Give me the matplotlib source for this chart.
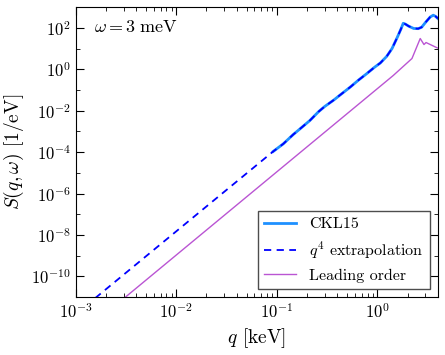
import numpy as np
import matplotlib
matplotlib.use("Agg")
import matplotlib.pyplot as plt
from matplotlib.ticker import LogLocator, NullFormatter

plt.rcParams['font.family'] = 'serif'
plt.rcParams['font.serif'] = ['cmr10', 'DejaVu Serif']
plt.rcParams['mathtext.fontset'] = 'cm'
plt.rcParams['axes.formatter.use_mathtext'] = True

# CKL15 structure factor (q in keV, S in 1/eV)
q_ckl = [0.092, 0.116, 0.146, 0.171, 0.214, 0.26, 0.30, 0.37, 0.42, 0.54,
         0.65, 0.78, 0.94, 1.07, 1.24, 1.40, 1.58, 1.72, 1.81, 1.90,
         2.05, 2.30, 2.55, 2.76, 3.0, 3.35, 3.6, 3.8, 4.0]
s_ckl = [1.07e-4, 2.5e-4, 7.1e-4, 1.35e-3, 3.4e-3, 8.9e-3, 1.6e-2, 3.3e-2, 5.4e-2, 0.14,
         0.30, 0.60, 1.26, 2.0, 4.2, 10.0, 35.0, 89.0, 166.0, 151.0,
         120.0, 93.0, 91.0, 107.0, 178.0, 331.0, 407.0, 355.0, 282.0]

# q^4 extrapolation below the CKL15 range
q_ext = [1e-3, 0.092]
s_ext = [1.5e-12, 1.07e-4]

# leading order result
q_lo = [1e-3, 1.44, 2.21, 2.67, 2.91, 3.05, 3.95]
s_lo = [1.03e-13, 0.5, 3.3, 30.5, 15.6, 19.5, 10.7]

fig = plt.figure(figsize=(4.45, 3.55), dpi=100)
ax = fig.add_axes([0.170, 0.163, 0.814, 0.817])

ax.plot(q_ckl, s_ckl, color='dodgerblue', lw=2.0, label='CKL15')
ax.plot(q_ext + q_ckl[1:], s_ext + s_ckl[1:], color='blue', lw=1.3,
        ls=(0, (4, 3)), label=r'$q^4$ extrapolation')
ax.plot(q_lo, s_lo, color='mediumorchid', lw=1.0, label='Leading order')

ax.set_xscale('log')
ax.set_yscale('log')
ax.set_xlim(1e-3, 4.0)
ax.set_ylim(1e-11, 1e3)
ax.set_yticks([10.0**k for k in range(-10, 3, 2)])
ax.set_yticks([10.0**k for k in range(-11, 4, 2)], minor=True)
ax.yaxis.set_minor_formatter(NullFormatter())
ax.xaxis.set_major_locator(LogLocator(base=10, numticks=10))
ax.xaxis.set_minor_locator(LogLocator(base=10, subs=np.arange(2, 10), numticks=20))

ax.tick_params(which='both', direction='in', top=True, right=True, labelsize=12)
ax.tick_params(which='major', length=6)
ax.tick_params(which='minor', length=3)

ax.set_xlabel(r'$q$ [keV]', fontsize=14)
ax.set_ylabel(r'$S(q,\omega)$ [1/eV]', fontsize=14)
ax.text(0.05, 0.93, r'$\omega = 3\ \mathrm{meV}$', transform=ax.transAxes,
        fontsize=13, va='center')

leg = ax.legend(loc='lower right', fontsize=11.5, fancybox=False, framealpha=1,
                edgecolor='0.3', handlelength=2.0)
leg.get_frame().set_linewidth(1.0)

fig.savefig('out.png', dpi=100)
